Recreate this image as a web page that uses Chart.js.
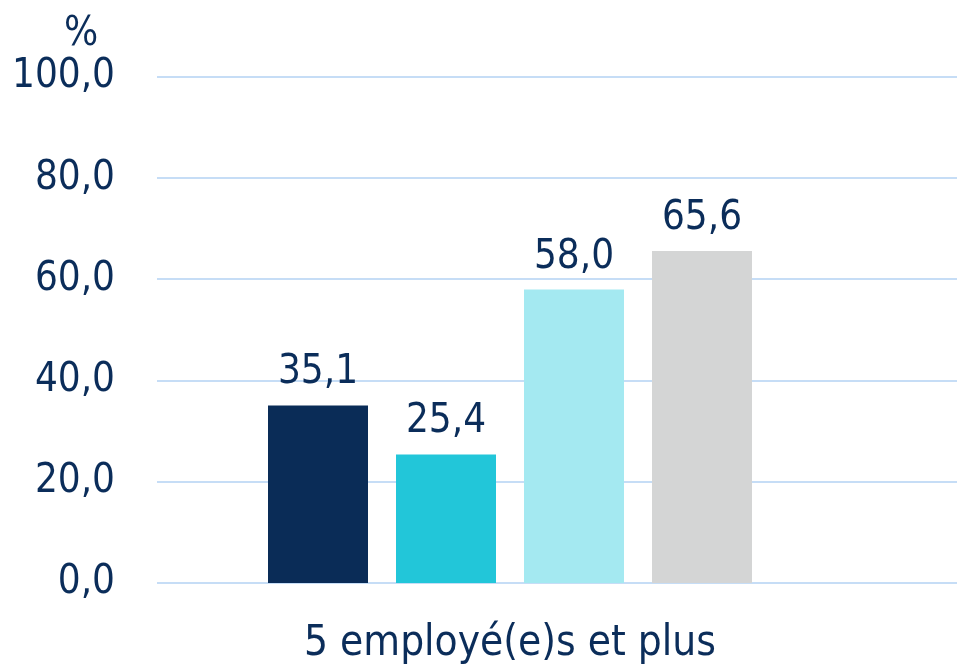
<!DOCTYPE html>
<html>
<head>
<meta charset="utf-8">
<script src="https://cdn.jsdelivr.net/npm/chart.js@4"></script>
<style>
  body { margin: 0; background: #fff; }
  #wrap { width: 957px; height: 664px; }
</style>
</head>
<body>
<div id="wrap"><canvas id="barChart"></canvas></div>
<script>
// chart data
const categories = ['5 employé(e)s et plus'];
const seriesNames = ['Série 1', 'Série 2', 'Série 3', 'Série 4'];
const series1 = [35.1];
const series2 = [25.4];
const series3 = [58.0];
const series4 = [65.6];
const yTicks = [0, 20, 40, 60, 80, 100];
const unitLabel = '%';

const textColor = '#0b2d5a';
const fontFamily = '"DejaVu Sans Condensed", "DejaVu Sans", sans-serif';
const barColors = ['#0a2c57', '#22c6d9', '#a4e9f1', '#d4d5d5'];

// comma decimal, like the original
function fmt(v) {
  return v.toFixed(1).replace('.', ',');
}

// light blue gridlines running past the plot to the right edge
const gridPlugin = {
  id: 'gridLines',
  beforeDatasetsDraw(chart) {
    const ctx = chart.ctx;
    const y = chart.scales.y;
    ctx.save();
    ctx.strokeStyle = '#c6ddf6';
    ctx.lineWidth = 2;
    yTicks.forEach((t) => {
      const py = Math.round(y.getPixelForValue(t));
      ctx.beginPath();
      ctx.moveTo(chart.chartArea.left, py);
      ctx.lineTo(chart.width, py);
      ctx.stroke();
    });
    ctx.restore();
  }
};

// value labels above bars + the % unit above the axis
const labelPlugin = {
  id: 'valueLabels',
  afterDatasetsDraw(chart) {
    const ctx = chart.ctx;
    ctx.save();
    ctx.fillStyle = textColor;
    ctx.font = '40px ' + fontFamily;
    ctx.textAlign = 'center';
    ctx.textBaseline = 'alphabetic';
    chart.data.datasets.forEach((ds, i) => {
      chart.getDatasetMeta(i).data.forEach((bar, j) => {
        ctx.fillText(fmt(ds.data[j]), bar.x, bar.y - 22);
      });
    });
    const y = chart.scales.y;
    ctx.fillText(unitLabel, y.right - 76, chart.chartArea.top - 32);
    ctx.restore();
  }
};

function createChart() {
  const ctx = document.getElementById('barChart').getContext('2d');
  const allSeries = [series1, series2, series3, series4];
  new Chart(ctx, {
    type: 'bar',
    data: {
      labels: categories,
      datasets: allSeries.map((s, i) => ({
        label: seriesNames[i],
        data: s,
        backgroundColor: barColors[i],
        borderWidth: 0,
        categoryPercentage: 0.7252,
        barPercentage: 0.78125
      }))
    },
    options: {
      responsive: true,
      maintainAspectRatio: false,
      animation: false,
      layout: {
        padding: { top: 77, right: 94, bottom: 0, left: 12 }
      },
      scales: {
        x: {
          grid: { display: false, drawTicks: false },
          border: { display: false },
          afterFit: (s) => {
            s.paddingLeft = 0;
            s.paddingRight = 0;
            s.height = 81;
          },
          ticks: {
            color: textColor,
            font: { size: 42, family: fontFamily },
            padding: 36,
            maxRotation: 0,
            minRotation: 0
          }
        },
        y: {
          min: 0,
          max: 100,
          grid: { display: false, drawTicks: false },
          border: { display: false },
          afterFit: (s) => {
            s.width = 145;
          },
          afterBuildTicks: (scale) => {
            scale.ticks = yTicks.map((v) => ({ value: v }));
          },
          ticks: {
            color: textColor,
            font: { size: 40, family: fontFamily },
            padding: 42,
            callback: (v) => fmt(v)
          }
        }
      },
      plugins: {
        legend: { display: false },
        tooltip: { enabled: false }
      }
    },
    plugins: [gridPlugin, labelPlugin]
  });
}

createChart();
</script>
</body>
</html>
